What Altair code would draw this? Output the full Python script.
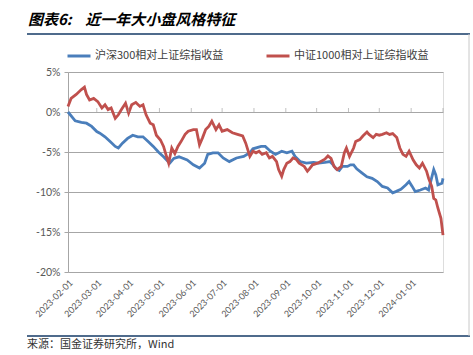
import altair as alt
import pandas as pd

TITLE = "图表6:\u00a0\u00a0\u00a0\u00a0近一年大小盘风格特征"
SOURCE = "来源：国金证券研究所，Wind"
S1 = "沪深300相对上证综指收益"
S2 = "中证1000相对上证综指收益"

blue_dates = [
    "2023-02-01", "2023-02-08", "2023-02-14", "2023-02-19", "2023-02-24", "2023-03-01",
    "2023-03-04", "2023-03-09", "2023-03-14", "2023-03-19", "2023-03-22", "2023-03-26",
    "2023-03-31", "2023-04-05", "2023-04-10", "2023-04-15", "2023-04-20", "2023-04-25",
    "2023-04-30", "2023-05-05", "2023-05-11", "2023-05-15", "2023-05-20", "2023-05-28",
    "2023-06-03", "2023-06-09", "2023-06-14", "2023-06-17", "2023-06-22", "2023-06-27",
    "2023-07-02", "2023-07-08", "2023-07-15", "2023-07-22", "2023-07-28", "2023-07-31",
    "2023-08-08", "2023-08-12", "2023-08-17", "2023-08-22", "2023-08-28", "2023-09-02",
    "2023-09-07", "2023-09-10", "2023-09-15", "2023-09-21", "2023-09-28", "2023-10-03",
    "2023-10-09", "2023-10-14", "2023-10-17", "2023-10-20", "2023-10-23", "2023-10-26",
    "2023-10-31", "2023-11-03", "2023-11-06", "2023-11-09", "2023-11-14", "2023-11-19",
    "2023-11-24", "2023-11-29", "2023-12-04", "2023-12-09", "2023-12-14", "2023-12-17",
    "2023-12-22", "2023-12-27", "2023-12-30", "2024-01-02", "2024-01-05", "2024-01-10",
    "2024-01-15", "2024-01-18", "2024-01-20", "2024-01-23", "2024-01-25", "2024-01-27",
    "2024-01-31", "2024-02-01",
]
blue_vals = [
    0.0, -1.1, -1.3, -1.4, -1.8, -2.45,
    -2.65, -3.1, -3.7, -4.3, -4.5, -3.9,
    -3.3, -2.9, -3.1, -3.1, -3.7, -4.3,
    -5.0, -5.6, -6.4, -5.8, -5.6, -6.0,
    -6.6, -7.0, -6.4, -5.3, -5.1, -5.1,
    -5.75, -6.2, -5.75, -5.55, -5.1, -4.6,
    -4.3, -4.3, -4.9, -5.3, -4.9, -5.1,
    -4.9, -5.55, -6.2, -6.4, -6.3, -6.4,
    -6.3, -6.2, -6.6, -7.1, -7.3, -6.8,
    -6.8, -6.6, -6.6, -7.1, -7.6, -8.1,
    -8.3, -8.7, -9.3, -9.5, -10.1, -9.95,
    -9.65, -9.1, -8.7, -9.3, -9.95, -9.75,
    -9.5, -9.75, -8.7, -7.2, -7.85, -9.1,
    -8.9, -8.3,
]

red_dates = [
    "2023-02-01", "2023-02-04", "2023-02-09", "2023-02-14", "2023-02-17", "2023-02-19",
    "2023-02-22", "2023-02-26", "2023-03-02", "2023-03-06", "2023-03-09", "2023-03-12",
    "2023-03-15", "2023-03-19", "2023-03-22", "2023-03-25", "2023-03-29", "2023-04-01",
    "2023-04-04", "2023-04-08", "2023-04-12", "2023-04-15", "2023-04-18", "2023-04-22",
    "2023-04-25", "2023-04-28", "2023-05-02", "2023-05-05", "2023-05-08", "2023-05-10",
    "2023-05-13", "2023-05-16", "2023-05-19", "2023-05-22", "2023-05-26", "2023-05-29",
    "2023-06-03", "2023-06-06", "2023-06-09", "2023-06-12", "2023-06-15", "2023-06-18",
    "2023-06-21", "2023-06-25", "2023-06-28", "2023-07-01", "2023-07-06", "2023-07-11",
    "2023-07-16", "2023-07-21", "2023-07-24", "2023-07-28", "2023-07-31", "2023-08-03",
    "2023-08-06", "2023-08-09", "2023-08-13", "2023-08-16", "2023-08-19", "2023-08-23",
    "2023-08-25", "2023-08-28", "2023-08-30", "2023-09-02", "2023-09-05", "2023-09-08",
    "2023-09-11", "2023-09-14", "2023-09-19", "2023-09-22", "2023-09-24", "2023-09-27",
    "2023-10-02", "2023-10-09", "2023-10-12", "2023-10-15", "2023-10-18", "2023-10-21",
    "2023-10-25", "2023-10-28", "2023-10-30", "2023-11-02", "2023-11-06", "2023-11-08",
    "2023-11-12", "2023-11-15", "2023-11-19", "2023-11-21", "2023-11-25", "2023-11-28",
    "2023-12-01", "2023-12-04", "2023-12-08", "2023-12-11", "2023-12-14", "2023-12-18",
    "2023-12-21", "2023-12-24", "2023-12-27", "2023-12-30", "2024-01-03", "2024-01-06",
    "2024-01-09", "2024-01-12", "2024-01-16", "2024-01-18", "2024-01-21", "2024-01-23",
    "2024-01-25", "2024-01-27", "2024-01-30", "2024-02-01",
]
red_vals = [
    0.7, 1.7, 2.2, 2.8, 3.1, 2.2,
    1.5, 1.7, 1.3, 0.5, 0.9, 0.3,
    0.5, -0.8, -0.35, 0.3, 1.1, -0.15,
    0.9, 1.2, 0.7, 0.9, -0.35, -1.4,
    -1.6, -2.9, -3.5, -4.3, -5.6, -6.4,
    -4.5, -5.2, -4.3, -3.7, -2.8, -2.4,
    -2.2, -2.2, -4.1, -3.2, -2.2, -1.8,
    -1.15, -2.2, -1.6, -2.4, -2.2, -2.6,
    -2.8, -3.0, -3.9, -5.55, -4.9, -5.1,
    -4.9, -5.3, -5.1, -5.75, -5.55, -6.2,
    -7.2, -8.05, -7.2, -6.4, -6.2, -5.75,
    -5.9, -6.4, -6.8, -7.4, -7.1, -6.6,
    -6.4, -5.9, -5.5, -5.8, -6.8, -7.2,
    -6.8, -5.1, -4.5, -5.55, -4.5, -3.7,
    -3.45, -3.0, -2.5, -2.8, -3.2, -2.8,
    -2.9, -2.8, -2.6, -2.8, -2.7, -3.2,
    -4.5, -5.3, -5.55, -4.9, -6.0, -6.6,
    -7.0, -6.4, -7.4, -8.3, -9.3, -10.8,
    -11.0, -12.0, -13.3, -15.4,
]

month_labels = ["2023-02-01", "2023-03-01", "2023-04-01", "2023-05-01", "2023-06-01",
                "2023-07-01", "2023-08-01", "2023-09-01", "2023-10-01", "2023-11-01",
                "2023-12-01", "2024-01-01"]
zero_ticks = month_labels[1:] + ["2024-02-01"]
y_ticks = [5, 0, -5, -10, -15, -20]

assert len(blue_dates) == len(blue_vals)
assert len(red_dates) == len(red_vals)

df = pd.concat([
    pd.DataFrame({"date": blue_dates, "v": blue_vals, "s": S1}),
    pd.DataFrame({"date": red_dates, "v": red_vals, "s": S2}),
])

def dt(s):
    y, m, d = map(int, s.split("-"))
    return alt.DateTime(year=y, month=m, date=d, utc=True)

W, H = 375, 200
GRID = "#a6a6a6"
LAB = "#595959"
FONT = "Noto Sans CJK SC"
NUMFONT = "Lato"

x_scale = alt.Scale(type="utc", domain=[dt("2023-02-01"), dt("2024-02-01")])
y_scale = alt.Scale(domain=[-20, 5], nice=False)

x_axis = alt.Axis(values=[dt(s) for s in month_labels], labelExpr="utcFormat(datum.value, '%Y-%m-%d')",
                  labelAngle=-45, labelFontSize=9, labelColor=LAB, labelFont=NUMFONT,
                  ticks=False, domain=False, grid=False, title=None, labelPadding=6,
                  labelOverlap=False, labelBound=False, labelFlush=False)
y_axis = alt.Axis(values=y_ticks, labelExpr="datum.value + '%'", labelFontSize=10.5,
                  labelColor=LAB, labelFont=NUMFONT, tickSize=4, tickColor=GRID,
                  domainColor=GRID, gridColor=GRID, grid=True, title=None, labelPadding=4,
                  labelOverlap=False, labelFlush=False, labelBound=False)

legend = alt.Legend(orient="none", legendX=-2, legendY=-29, direction="horizontal", title=None,
                    symbolType="stroke", symbolSize=529, symbolStrokeWidth=3,
                    labelFontSize=11, labelFont=FONT, labelColor="#404040",
                    columnPadding=36, labelOffset=3, labelLimit=300)
color = alt.Color("s:N", scale=alt.Scale(domain=[S1, S2], range=["#4a7ebb", "#c0504d"]),
                  legend=legend)

X = alt.X("date:T", scale=x_scale, axis=x_axis)
Y = alt.Y("v:Q", scale=y_scale, axis=y_axis)

base = alt.Chart(df)
blue = base.transform_filter(alt.datum.s == S1).mark_line(strokeWidth=2.8).encode(
    x=X, y=Y, color=color)
red = base.transform_filter(alt.datum.s == S2).mark_line(strokeWidth=2.8).encode(
    x=X, y=Y, color=color)

ticks = alt.Chart(pd.DataFrame({"date": zero_ticks, "v": 0})).mark_tick(
    orient="vertical", size=4, thickness=1, color=GRID, yOffset=-2
).encode(x=X, y=Y)

one = pd.DataFrame({"t": [TITLE]})
title = alt.Chart(one).mark_text(align="left", baseline="middle", fontSize=15, font=FONT,
                                 fontWeight="bold", fontStyle="italic", color="#000000").encode(
    text="t:N", x=alt.value(-40), y=alt.value(-52))
src = alt.Chart(pd.DataFrame({"t": [SOURCE]})).mark_text(
    align="left", baseline="middle", fontSize=11, font=FONT, color="#333333").encode(
    text="t:N", x=alt.value(-41), y=alt.value(273))

top_rule = alt.Chart(one).mark_rule(color="#4f6b8c", strokeWidth=2).encode(
    x=alt.value(-41), x2=alt.value(402), y=alt.value(-38))
bot_rule = alt.Chart(one).mark_rule(color="#4f6b8c", strokeWidth=2).encode(
    x=alt.value(-41), x2=alt.value(402), y=alt.value(264))
right_rule = alt.Chart(one).mark_rule(color="#c8c8c8", strokeWidth=1).encode(
    x=alt.value(401), y=alt.value(-38), y2=alt.value(264))

chart = alt.layer(blue, red, ticks, title, src, top_rule, bot_rule, right_rule).properties(
    width=W, height=H, autosize="none",
    padding={"left": 68, "top": 72, "right": 30, "bottom": 83},
).configure_view(stroke=None).configure(background="white")

chart.save("out.html", embed_options={"renderer": "svg", "actions": False})
